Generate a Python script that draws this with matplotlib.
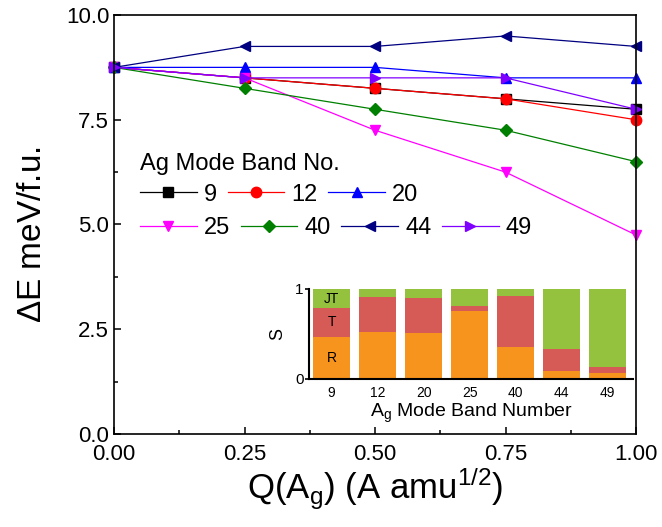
import matplotlib
matplotlib.use("Agg")
import matplotlib.pyplot as plt
from matplotlib.ticker import MultipleLocator, FixedLocator, FormatStrFormatter
import numpy as np

plt.rcParams['font.family'] = ['Liberation Sans', 'DejaVu Sans']
plt.rcParams['mathtext.fontset'] = 'custom'
plt.rcParams['mathtext.rm'] = 'Liberation Sans'
plt.rcParams['mathtext.it'] = 'Liberation Sans:italic'

# Displacement amplitude along the Ag mode
q = [0.0, 0.25, 0.5, 0.75, 1.0]

# Energy change per formula unit for each Ag mode band
band_labels = ['9', '12', '20', '25', '40', '44', '49']
dE_9 = [8.75, 8.5, 8.25, 8.0, 7.75]
dE_12 = [8.75, 8.5, 8.25, 8.0, 7.5]
dE_20 = [8.75, 8.75, 8.75, 8.5, 8.5]
dE_25 = [8.75, 8.5, 7.25, 6.25, 4.75]
dE_40 = [8.75, 8.25, 7.75, 7.25, 6.5]
dE_44 = [8.75, 9.25, 9.25, 9.5, 9.25]
dE_49 = [8.75, 8.5, 8.5, 8.5, 7.75]
series = [dE_9, dE_12, dE_20, dE_25, dE_40, dE_44, dE_49]

colors = ['#000000', '#FF0000', '#0000FF', '#FF00FF', '#008000', '#000080', '#8000FF']
markers = ['s', 'o', '^', 'v', 'D', '<', '>']
msizes = [6.5, 7.5, 7.5, 7.5, 6.5, 7.5, 7.5]

# Decomposition of each mode into R / T / JT components
R_frac = [0.47, 0.52, 0.51, 0.76, 0.36, 0.09, 0.07]
T_frac = [0.32, 0.39, 0.39, 0.05, 0.56, 0.24, 0.06]
JT_frac = [0.21, 0.09, 0.10, 0.19, 0.08, 0.67, 0.87]

fig = plt.figure(figsize=(6.62, 5.27), dpi=100)
ax = fig.add_axes([114 / 662, 1 - 434 / 527, (636 - 114) / 662, (434 - 15) / 527])

handles = []
for ys, c, m, ms, lab in zip(series, colors, markers, msizes, band_labels):
    h, = ax.plot(q, ys, color=c, marker=m, markersize=ms, lw=0.9,
                 markeredgecolor=c, markerfacecolor=c, label=lab, clip_on=False)
    handles.append(h)

ax.set_xlim(0, 1)
ax.set_ylim(0, 10)
ax.xaxis.set_major_locator(MultipleLocator(0.25))
ax.xaxis.set_minor_locator(MultipleLocator(0.125))
ax.yaxis.set_major_locator(MultipleLocator(2.5))
ax.yaxis.set_minor_locator(MultipleLocator(1.25))
ax.xaxis.set_major_formatter(FormatStrFormatter('%.2f'))
ax.yaxis.set_major_formatter(FormatStrFormatter('%.1f'))
ax.tick_params(which='both', direction='in', top=False, right=False,
               labelsize=16, width=1.1)
ax.tick_params(which='major', length=5)
ax.tick_params(which='minor', length=3)
ax.tick_params(axis='x', pad=7)
for s in ax.spines.values():
    s.set_linewidth(1.2)

ax.set_xlabel(r'Q(A$_\mathregular{g}$) (A amu$^\mathregular{1/2}$)', fontsize=25, labelpad=1)
ax.set_ylabel(r'$\Delta$E meV/f.u.', fontsize=24)
ax.yaxis.set_label_coords(-0.126, 0.475)

# Legend: title plus first row, then the second row beneath it
leg_kw = dict(frameon=False, fontsize=17, handlelength=2.4, handletextpad=0.3,
              columnspacing=0.45, borderpad=0, borderaxespad=0, loc='upper left')
leg1 = ax.legend(handles[:3], band_labels[:3], title='Ag Mode Band No.', ncol=3,
                 bbox_to_anchor=(0.05, 0.671), title_fontsize=17,
                 alignment='left', labelspacing=0.37, **leg_kw)
ax.add_artist(leg1)
leg2 = ax.legend(handles[3:], band_labels[3:], ncol=4,
                 bbox_to_anchor=(0.05, 0.517), **leg_kw)

# Inset: stacked bars of the R / T / JT character
ins = fig.add_axes([309 / 662, 1 - 379 / 527, (633 - 309) / 662, 90 / 527])
x = np.arange(len(band_labels))
c_R, c_T, c_JT = '#F7941D', '#D65A55', '#94C13E'
bottom_T = np.array(R_frac)
bottom_JT = bottom_T + np.array(T_frac)
ins.bar(x, R_frac, width=0.8, color=c_R)
ins.bar(x, T_frac, width=0.8, bottom=bottom_T, color=c_T)
ins.bar(x, JT_frac, width=0.8, bottom=bottom_JT, color=c_JT)
ins.set_xlim(-0.49, 6.55)
ins.set_ylim(0, 1)
ins.set_xticks(x)
ins.set_xticklabels(band_labels, fontsize=10)
ins.yaxis.set_major_locator(FixedLocator([0, 1]))
ins.set_yticklabels(['0', '1'], fontsize=11)
ins.tick_params(axis='x', length=0, pad=5)
ins.tick_params(axis='y', direction='out', length=3, width=1.2, pad=1)
ins.spines['top'].set_visible(False)
ins.spines['right'].set_visible(False)
ins.spines['left'].set_linewidth(1.5)
ins.spines['bottom'].set_linewidth(1.5)
ins.set_ylabel('S', fontsize=13, labelpad=6)
ins.set_xlabel(r'A$_\mathregular{g}$ Mode Band Number', fontsize=14, labelpad=1)
ins.text(0, 0.89, 'JT', ha='center', va='center', fontsize=10)
ins.text(0, 0.63, 'T', ha='center', va='center', fontsize=10)
ins.text(0, 0.23, 'R', ha='center', va='center', fontsize=10)

fig.savefig('out.png', dpi=100)
